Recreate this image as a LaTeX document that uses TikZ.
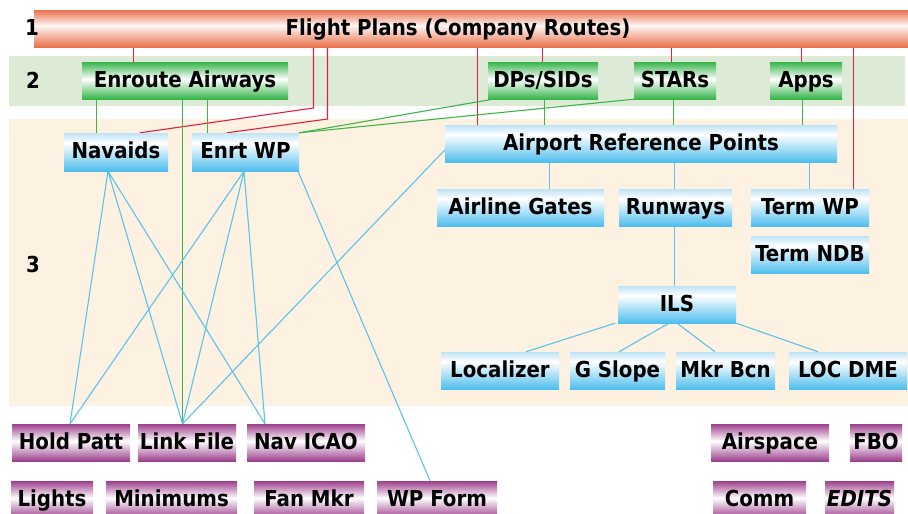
\documentclass[tikz,border=0pt]{standalone}
\usepackage{fontspec}
\setmainfont{DejaVu Sans Condensed}
\definecolor{orC}{HTML}{E9714B}
\definecolor{grC}{HTML}{36B44A}
\definecolor{blC}{HTML}{4FBEEE}
\definecolor{blT}{HTML}{BDE3F7}
\definecolor{puC}{HTML}{9C3F8C}
\definecolor{bandG}{HTML}{DDEBD6}
\definecolor{bandC}{HTML}{FDF1E2}
\definecolor{lnR}{HTML}{E1203E}
\definecolor{lnG}{HTML}{3DB54A}
\definecolor{lnB}{HTML}{5BC3EE}
\pgfdeclareverticalshading{orsh}{100bp}{color(0bp)=(orC); color(25bp)=(orC); color(54bp)=(orC!6); color(75bp)=(orC); color(100bp)=(orC)}
\pgfdeclareverticalshading{grsh}{100bp}{color(0bp)=(grC); color(25bp)=(grC); color(52bp)=(white); color(75bp)=(grC); color(100bp)=(grC)}
\pgfdeclareverticalshading{blsh}{100bp}{color(0bp)=(blC); color(25bp)=(blC); color(62bp)=(white); color(75bp)=(blT); color(100bp)=(blT)}
\pgfdeclareverticalshading{push}{100bp}{color(0bp)=(puC); color(25bp)=(puC); color(52bp)=(white); color(75bp)=(puC); color(100bp)=(puC)}
\pgfdeclarelayer{bg}
\pgfdeclarelayer{lines}
\pgfsetlayers{bg,lines,main}
\newcommand\lblfont{\bfseries\fontsize{22}{26}\selectfont}
\begin{document}
\begin{tikzpicture}[x=1pt,y=-1pt,
  lbl/.style={inner sep=0pt, text=black, font=\lblfont, text height=16pt, text depth=3pt},
  bx/.style={lbl, minimum height=37pt},
  gbox/.style={bx, shading=grsh},
  bbox/.style={bx, shading=blsh},
  pbox/.style={bx, shading=push},
  rl/.style={draw=lnR, line width=1.1pt},
  gl/.style={draw=lnG, line width=1.1pt},
  bl/.style={draw=lnB, line width=1.1pt}]
\useasboundingbox (0,0) rectangle (908,514);
% top bar
\node[bx, shading=orsh, minimum width=874pt] (fp) at (471,28.5) {};
\node[lbl] (fptext) at (458,28.5) {Flight Plans (Company Routes)};
% band numbers
\node[lbl] (n1) at (32,28.5) {1};
\node[lbl] (n2) at (33,82) {2};
\node[lbl] (n3) at (33,266) {3};
% green
\node[gbox, minimum width=206pt] (ea) at (185,80.5) {Enroute Airways};
\node[gbox, minimum width=110pt] (dps) at (543,80.5) {DPs/SIDs};
\node[gbox, minimum width=82pt] (stars) at (675,80.5) {STARs};
\node[gbox, minimum width=72pt] (apps) at (806,80.5) {Apps};
% blue
\node[bbox, minimum width=104pt, minimum height=38pt] (nav) at (116,152) {Navaids};
\node[bbox, minimum width=107pt, minimum height=38pt] (ewp) at (245.5,152) {Enrt WP};
\node[bbox, minimum width=392pt] (arp) at (641,143.5) {Airport Reference Points};
\node[bbox, minimum width=167pt] (gates) at (520.5,207.5) {Airline Gates};
\node[bbox, minimum width=113pt] (rwy) at (675.5,207.5) {Runways};
\node[bbox, minimum width=118pt] (twp) at (810,207.5) {Term WP};
\node[bbox, minimum width=118pt] (tndb) at (810,254.5) {Term NDB};
\node[bbox, minimum width=118pt] (ils) at (677,304.5) {ILS};
\node[bbox, minimum width=118pt] (loc) at (500,370.5) {Localizer};
\node[bbox, minimum width=95pt] (gs) at (617.5,370.5) {G Slope};
\node[bbox, minimum width=99pt] (mkr) at (725.5,370.5) {Mkr Bcn};
\node[bbox, minimum width=118pt] (ldme) at (848,370.5) {LOC DME};
% purple
\node[pbox, minimum width=118pt] (hold) at (71,442.5) {Hold Patt};
\node[pbox, minimum width=98pt] (link) at (187,442.5) {Link File};
\node[pbox, minimum width=118pt] (navicao) at (306,442.5) {Nav ICAO};
\node[pbox, minimum width=82pt] (lights) at (52,499.5) {Lights};
\node[pbox, minimum width=131pt] (mins) at (171.5,499.5) {Minimums};
\node[pbox, minimum width=110pt] (fan) at (309,499.5) {Fan Mkr};
\node[pbox, minimum width=120pt] (wpf) at (437,499.5) {WP Form};
\node[pbox, minimum width=118pt] (asp) at (770,442.5) {Airspace};
\node[pbox, minimum width=52pt] (fbo) at (876,442.5) {FBO};
\node[pbox, minimum width=93pt] (comm) at (759.5,499.5) {Comm};
\node[pbox, minimum width=69pt] (edits) at (859.5,499.5) {\itshape EDITS};
\begin{pgfonlayer}{bg}
\fill[bandG] (9,56) rectangle (905,106);
\fill[bandC] (9,119) rectangle (908,406);
\end{pgfonlayer}
\begin{pgfonlayer}{lines}
% red
\draw[rl] (fp.south -| 133.5,0) -- (ea.north -| 133.5,0);
\draw[rl] (fp.south -| 313.5,0) -- (313.5,108) -- (nav.north -| 140,0);
\draw[rl] (fp.south -| 327.5,0) -- (327.5,119) -- (ewp.north -| 227,0);
\draw[rl] (fp.south -| 477.5,0) -- (arp.north -| 477.5,0);
\draw[rl] (fp.south -| 542.5,0) -- (dps.north -| 542.5,0);
\draw[rl] (fp.south -| 671.5,0) -- (stars.north -| 671.5,0);
\draw[rl] (fp.south -| 801.5,0) -- (apps.north -| 801.5,0);
\draw[rl] (fp.south -| 853.5,0) -- (twp.north -| 853.5,0);
% green
\draw[gl] (ea.south -| 96.5,0) -- (nav.north -| 96.5,0);
\draw[gl] (ea.south -| 182.5,0) -- (link.north -| 182.5,0);
\draw[gl] (ea.south -| 207.5,0) -- (ewp.north -| 207.5,0);
\draw[gl] ([xshift=5pt]dps.south west) -- (ewp.north east);
\draw[gl] (stars.south west) -- (ewp.north east);
\draw[gl] (dps.south -| 544.5,0) -- (arp.north -| 544.5,0);
\draw[gl] (stars.south -| 673.5,0) -- (arp.north -| 673.5,0);
\draw[gl] (apps.south -| 802.5,0) -- (arp.north -| 802.5,0);
% blue
\draw[bl] (arp.south -| 549.5,0) -- (gates.north -| 549.5,0);
\draw[bl] (arp.south -| 674.5,0) -- (rwy.north -| 674.5,0);
\draw[bl] (arp.south -| 809.5,0) -- (twp.north -| 809.5,0);
\draw[bl] (rwy.south -| 674.5,0) -- (ils.north -| 674.5,0);
\draw[bl] (ils.south -| 615,0) -- (loc.north -| 526,0);
\draw[bl] (ils.south -| 669,0) -- (gs.north -| 619,0);
\draw[bl] (ils.south -| 677,0) -- (mkr.north -| 715,0);
\draw[bl] (ils.south east) -- (ldme.north -| 818,0);
\coordinate (navb) at (nav.south -| 108,0);
\coordinate (ewpb) at (ewp.south -| 244,0);
\coordinate (holdt) at (hold.north -| 70,0);
\coordinate (linkt) at (link.north -| 182.5,0);
\coordinate (icaot) at (navicao.north -| 265,0);
\draw[bl] (navb) -- (holdt) (navb) -- (linkt) (navb) -- (icaot);
\draw[bl] (ewpb) -- (holdt) (ewpb) -- (linkt) (ewpb) -- (icaot);
\draw[bl] (ewp.south -| 298,0) -- (wpf.north -| 430,0);
\draw[bl] (arp.west |- 0,150) -- (linkt);
\end{pgfonlayer}
\end{tikzpicture}
\end{document}
